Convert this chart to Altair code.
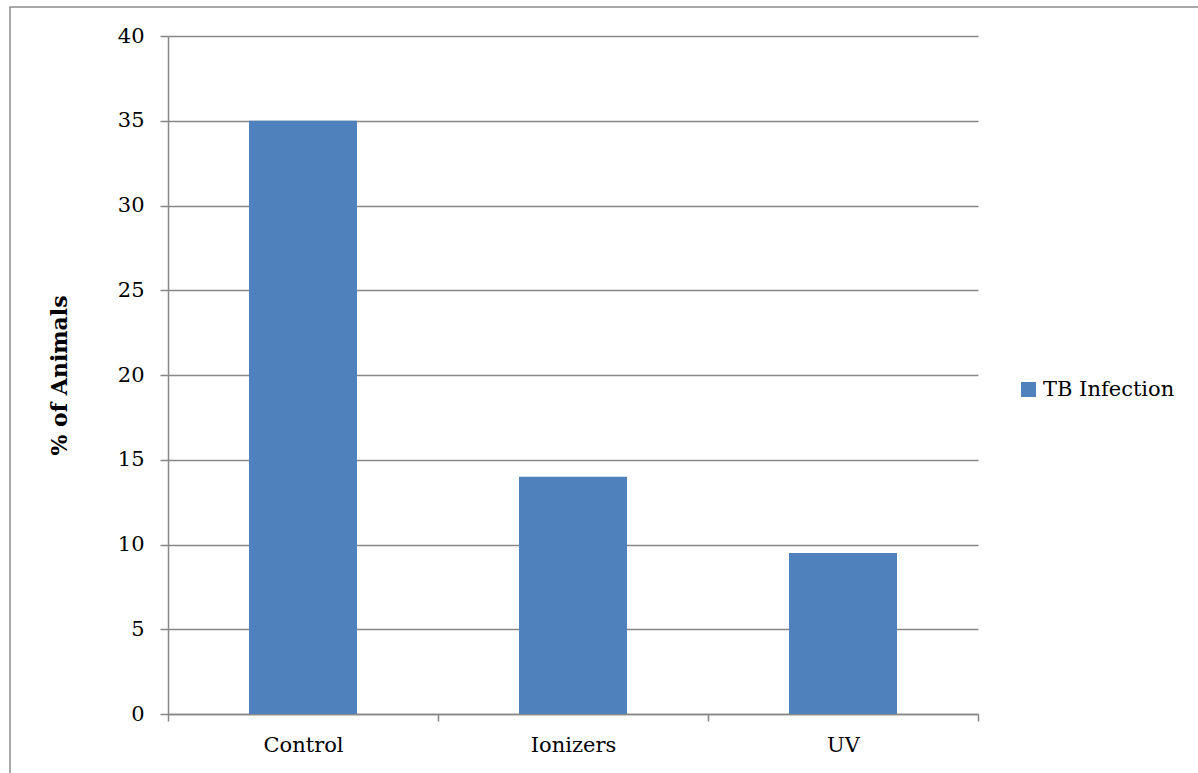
import altair as alt
import pandas as pd

categories = ["Control", "Ionizers", "UV"]
values = [35, 14, 9.5]
series = ["TB Infection", "TB Infection", "TB Infection"]

df = pd.DataFrame({"group": categories, "pct": values, "series": series})

FONT = "DejaVu Serif"
GRAY = "#878787"

bars = alt.Chart(df).mark_bar(color="#4F81BD", width=alt.RelativeBandSize(0.4)).encode(
    x=alt.X("group:N", sort=categories, title=None,
            scale=alt.Scale(paddingInner=0, paddingOuter=0),
            axis=alt.Axis(labelAngle=0, labelFontSize=21, labelFont=FONT, labelColor="black",
                          labelPadding=13, tickBand="extent", tickSize=7, tickColor=GRAY,
                          domainColor=GRAY, domainWidth=1.5, tickWidth=1.5, grid=False)),
    y=alt.Y("pct:Q", title="% of Animals",
            scale=alt.Scale(domain=[0, 40], nice=False),
            axis=alt.Axis(values=[0, 5, 10, 15, 20, 25, 30, 35, 40], labelFontSize=21,
                          labelFont=FONT, labelColor="black", labelPadding=16, tickSize=8,
                          tickColor=GRAY, domainColor=GRAY, domainWidth=1.5, tickWidth=1.5,
                          gridColor=GRAY, gridWidth=1.5, titleFont=FONT, titleFontSize=22,
                          titleFontWeight="bold", titleColor="black", titlePadding=46)),
    color=alt.Color("series:N", title=None,
                    scale=alt.Scale(range=["#4F81BD"]),
                    legend=alt.Legend(orient="none", legendX=850, legendY=343,
                                      symbolType="square", symbolSize=225,
                                      symbolStrokeWidth=0, labelFont=FONT,
                                      labelFontSize=21, labelColor="black", labelOffset=4)),
)

border = alt.Chart(pd.DataFrame({"b": [0]})).mark_rect(
    fill=None, stroke="#8c8c8c", strokeWidth=1.5
).encode(
    x=alt.value(-158), x2=alt.value(1040),
    y=alt.value(-29), y2=alt.value(745),
)

chart = alt.layer(border, bars).properties(
    width=810, height=678,
    autosize=alt.AutoSizeParams(type="none"),
    padding={"left": 168, "top": 36, "right": 220, "bottom": 59},
    background="white",
).configure_view(stroke=None)

chart.save("out.html", embed_options={"renderer": "svg", "actions": False})
